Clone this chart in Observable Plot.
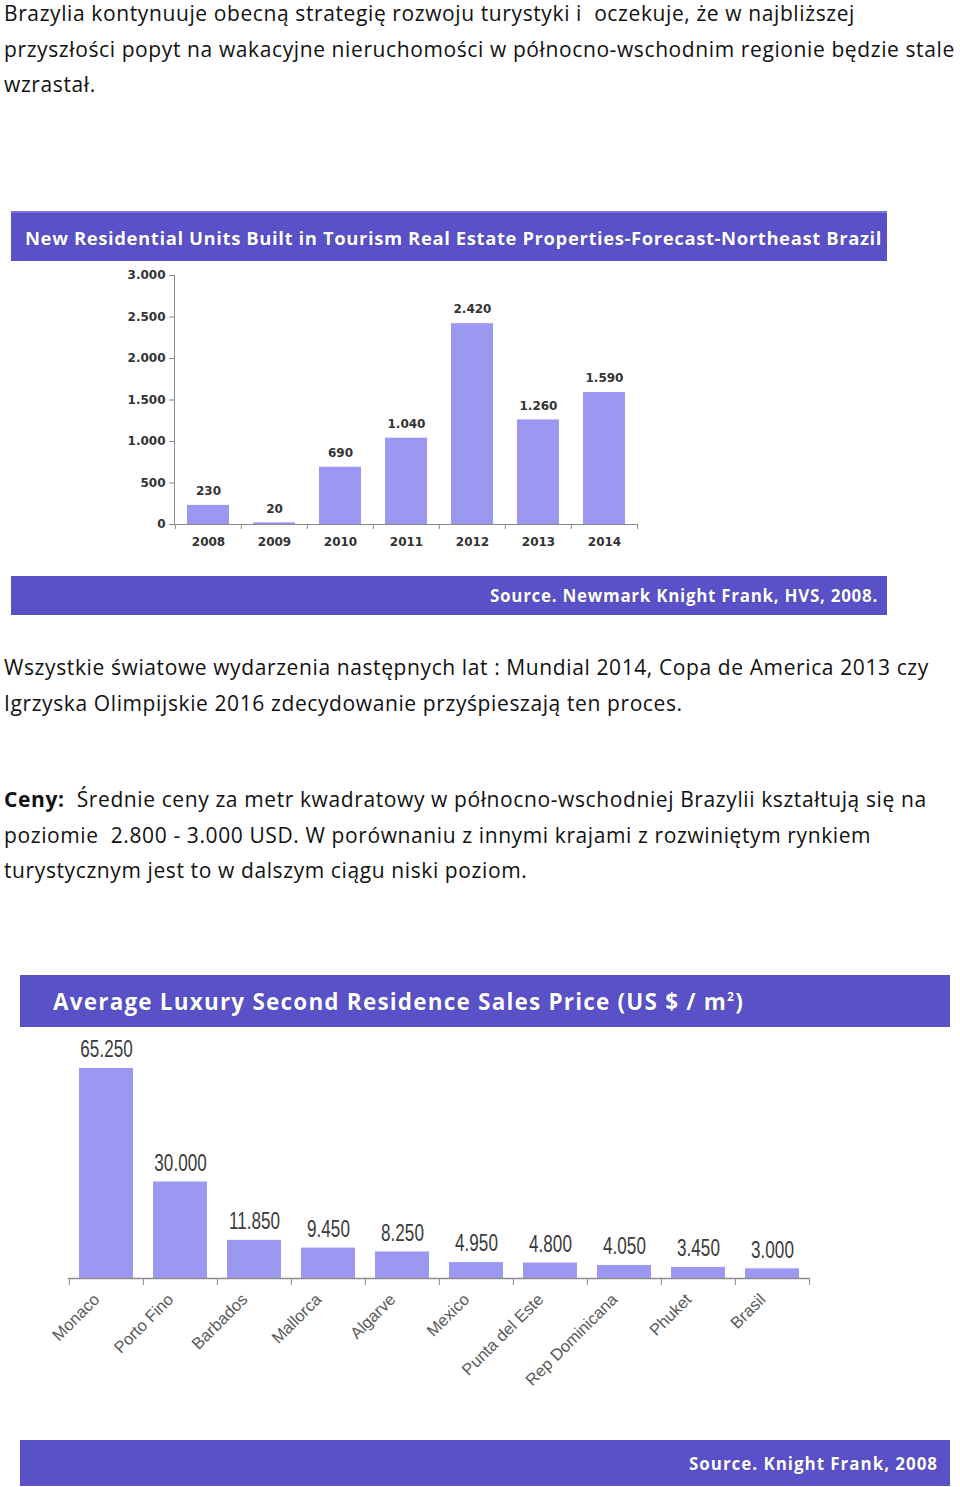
<!DOCTYPE html>
<html>
<head>
<meta charset="utf-8">
<script src="https://cdn.jsdelivr.net/npm/d3@7"></script>
<script src="https://cdn.jsdelivr.net/npm/@observablehq/plot@0.6"></script>
<style>
  html, body { margin: 0; padding: 0; background: #fff; }
  #page { position: relative; width: 960px; height: 1487px; overflow: hidden; background: #fff; }
  .para { position: absolute; left: 4px; font-family: "Open Sans", "Noto Sans", sans-serif; font-size: 21px; line-height: 35.7px; color: #111; white-space: nowrap; }
  .banner { position: absolute; background: #5a51c8; color: #fff; font-family: "Open Sans", Lato, sans-serif; font-weight: bold; display: flex; align-items: center; white-space: nowrap; text-shadow: 0 0 1px rgba(30,20,90,0.6); box-sizing: border-box; }
  .chart { position: absolute; }
  .chart svg { display: block; }
</style>
</head>
<body>
<div id="page">
  <div class="para" style="top:-4px"><span id="refline">Brazylia kontynuuje obecną strategię rozwoju turystyki i&nbsp; oczekuje, że w najbliższej</span><br>przyszłości popyt na wakacyjne nieruchomości w północno-wschodnim regionie będzie stale<br>wzrastał.</div>

  <div class="banner" style="left:11px; top:211px; width:876px; height:50px; padding-left:14px; font-size:18.5px; border-top:2px solid #7a72e0;"><span class="fit" data-w="857">New Residential Units Built in Tourism Real Estate Properties-Forecast-Northeast Brazil</span></div>
  <div class="chart" id="chart1" style="left:11px; top:261px;"></div>
  <div class="banner" style="left:11px; top:576px; width:876px; height:39px; justify-content:flex-end; padding-right:9px; font-size:17px;"><span class="fit" data-w="388">Source. Newmark Knight Frank, HVS, 2008.</span></div>

  <div class="para" style="top:650px">Wszystkie światowe wydarzenia następnych lat : Mundial 2014, Copa de America 2013 czy<br>Igrzyska Olimpijskie 2016 zdecydowanie przyśpieszają ten proces.</div>

  <div class="para" style="top:782px"><b>Ceny:</b>&nbsp; Średnie ceny za metr kwadratowy w północno-wschodniej Brazylii kształtują się na<br>poziomie&nbsp; 2.800 - 3.000 USD. W porównaniu z innymi krajami z rozwiniętym rynkiem<br>turystycznym jest to w dalszym ciągu niski poziom.</div>

  <div class="banner" style="left:20px; top:975px; width:930px; height:52px; padding-left:33px; font-size:22.5px;"><span class="fit" data-w="691">Average Luxury Second Residence Sales Price (US $ / m<span style="font-size:12px; position:relative; top:-9px">2</span>)</span></div>
  <div class="chart" id="chart2" style="left:20px; top:1027px;"></div>
  <div class="banner" style="left:20px; top:1440px; width:930px; height:46px; justify-content:flex-end; padding-right:12px; font-size:17px;"><span class="fit" data-w="249">Source. Knight Frank, 2008</span></div>
</div>
<script>
// ---- Data: chart 1 ----
const years = ["2008", "2009", "2010", "2011", "2012", "2013", "2014"];
const units = [230, 20, 690, 1040, 2420, 1260, 1590];
const yTicks1 = [0, 500, 1000, 1500, 2000, 2500, 3000];

// ---- Data: chart 2 ----
const places = ["Monaco", "Porto Fino", "Barbados", "Mallorca", "Algarve", "Mexico", "Punta del Este", "Rep Dominicana", "Phuket", "Brasil"];
const prices = [65250, 30000, 11850, 9450, 8250, 4950, 4800, 4050, 3450, 3000];

const fmt = d3.formatLocale({decimal: ",", thousands: ".", grouping: [3], currency: ["", ""]}).format(",");

const barColor = "#9c98f2";
const axisColor = "#8a8a8a";

// ---- text fitting (letter-spacing) ----
function fitSpan(el, target) {
  el.style.letterSpacing = "0px";
  const w = el.getBoundingClientRect().width;
  const n = el.textContent.length;
  const ls = (target - w) / n;
  el.style.letterSpacing = ls + "px";
  return ls;
}
{
  const ls = fitSpan(document.getElementById("refline"), 851);
  document.getElementById("refline").style.letterSpacing = "";
  document.querySelectorAll(".para").forEach(p => p.style.letterSpacing = ls + "px");
  document.querySelectorAll(".fit").forEach(s => fitSpan(s, +s.dataset.w));
}

// ---- Chart 1 ----
{
  const data = years.map((y, i) => ({year: y, units: units[i]}));
  const W = 876, H = 315, mL = 163, mR = 249, mT = 14, mB = 52;
  const step = (W - mL - mR) / years.length;
  const chart = Plot.plot({
    width: W, height: H,
    marginLeft: mL, marginRight: mR, marginTop: mT, marginBottom: mB,
    style: {background: "transparent", fontFamily: "'DejaVu Sans', Verdana, sans-serif", color: "#333", overflow: "visible"},
    x: {domain: years, paddingInner: 0.37, paddingOuter: 0.185, axis: null},
    y: {domain: [0, 3000], axis: null},
    marks: [
      Plot.barY(data, {x: "year", y: "units", fill: barColor}),
      Plot.text(data, {x: "year", y: "units", text: d => fmt(d.units), dy: -14, fontSize: 12, fontWeight: "bold", fill: "#333"}),
      Plot.axisY({ticks: yTicks1, tickFormat: fmt, tickSize: 5, tickPadding: 4, fontSize: 12, fontWeight: "bold", label: null, stroke: axisColor, fill: "#333"}),
      Plot.axisX({tickSize: 0, tickPadding: 13, fontSize: 12, fontWeight: "bold", label: null, fill: "#333"}),
      Plot.axisX({text: null, tickSize: 5, dx: -step / 2, stroke: axisColor, label: null}),
      Plot.axisX({ticks: [years[years.length - 1]], text: null, tickSize: 5, dx: step / 2, stroke: axisColor, label: null}),
      Plot.frame({anchor: "left", stroke: axisColor}),
      Plot.ruleY([0], {stroke: axisColor})
    ]
  });
  document.getElementById("chart1").append(chart);
}

// ---- Chart 2 ----
{
  const data = places.map((p, i) => ({place: p, price: prices[i]}));
  const W = 930, H = 413, mL = 48, mR = 140, mT = 41, mB = 162;
  const step = (W - mL - mR) / places.length;
  const chart = Plot.plot({
    width: W, height: H,
    marginLeft: mL, marginRight: mR, marginTop: mT, marginBottom: mB,
    style: {background: "transparent", fontFamily: "'Liberation Sans', Arial, sans-serif", color: "#444", overflow: "visible"},
    x: {domain: places, paddingInner: 0.27, paddingOuter: 0.135, axis: null},
    y: {domain: [0, 65250], axis: null},
    marks: [
      Plot.barY(data, {x: "place", y: "price", fill: barColor}),
      Plot.text(data, {x: "place", y: "price", text: d => fmt(d.price), dy: -19, fontSize: 18, fill: "#3a3a3a", ariaDescription: "value-labels"}),
      Plot.text(data, {x: "place", text: "place", frameAnchor: "bottom", rotate: -45, textAnchor: "end", dx: -6, dy: 22, fontSize: 16.5, fill: "#5a5a5a"}),
      Plot.axisX({text: null, tickSize: 7, dx: -step / 2, stroke: axisColor, label: null}),
      Plot.axisX({ticks: [places[places.length - 1]], text: null, tickSize: 7, dx: step / 2, stroke: axisColor, label: null}),
      Plot.ruleY([0], {stroke: axisColor, strokeWidth: 1.5})
    ]
  });
  // condensed-tall look of the value labels
  chart.querySelectorAll('g[aria-description="value-labels"] text').forEach(t => {
    const x = +t.getAttribute("x") || 0, y = +t.getAttribute("y") || 0;
    const tr = t.getAttribute("transform") || "";
    t.setAttribute("transform", `${tr} translate(${x},${y}) scale(0.95,1.35) translate(${-x},${-y})`);
  });
  document.getElementById("chart2").append(chart);
}
</script>
</body>
</html>
